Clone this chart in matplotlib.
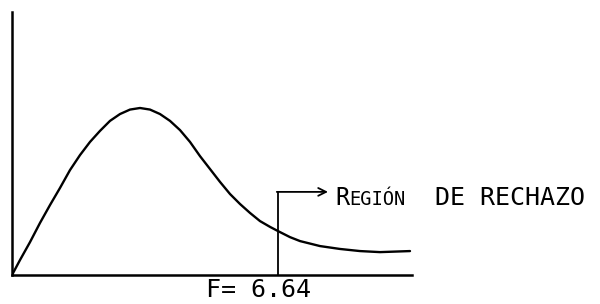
import matplotlib
matplotlib.use('Agg')
import matplotlib.pyplot as plt

# curve (F value, relative density)
f_vals = [0.0, 0.2, 0.45, 0.7, 0.95, 1.2, 1.45, 1.7, 1.95, 2.2, 2.45, 2.7, 2.95,
          3.2, 3.45, 3.7, 3.95, 4.2, 4.45, 4.7, 4.95, 5.2, 5.45, 5.7, 5.95,
          6.2, 6.45, 6.65, 6.95, 7.2, 7.7, 8.2, 8.7, 9.2, 9.95]
density = [0.0, 0.057, 0.125, 0.198, 0.266, 0.331, 0.399, 0.456, 0.506, 0.548, 0.586,
           0.612, 0.629, 0.635, 0.629, 0.612, 0.586, 0.551, 0.506, 0.452, 0.403,
           0.354, 0.308, 0.270, 0.236, 0.205, 0.183, 0.167, 0.144, 0.129, 0.110,
           0.099, 0.091, 0.087, 0.091]
f_crit = 6.64
crit_label = 'F= 6.64'

mono = 'DejaVu Sans Mono'

fig = plt.figure(figsize=(6, 3.04), dpi=100)
ax = fig.add_axes([12 / 600, 29 / 304, 400 / 600, 263 / 304])
ax.plot(f_vals, density, color='black', lw=1.7, solid_joinstyle='round',
        solid_capstyle='round')

ax.set_xlim(0, 10)
ax.set_ylim(0, 1)
for s in ['top', 'right']:
    ax.spines[s].set_visible(False)
for s in ['left', 'bottom']:
    ax.spines[s].set_linewidth(1.8)
ax.set_xticks([])
ax.set_yticks([])

# bracket marking the rejection region
ax.plot([f_crit, f_crit], [0, 0.316], color='black', lw=1.3)
ax.annotate('', xy=(7.9, 0.316), xytext=(f_crit - 0.02, 0.316),
            arrowprops=dict(arrowstyle='->', color='black', lw=1.3,
                            shrinkA=0, shrinkB=0, mutation_scale=14))

ax.text(8.08, 0.266, 'R', fontfamily=mono, fontsize=17, va='baseline', clip_on=False)
ax.text(8.42, 0.266, 'EGIÓN', fontfamily=mono, fontsize=13.5, va='baseline', clip_on=False)
ax.text(10.58, 0.266, 'DE RECHAZO', fontfamily=mono, fontsize=18, va='baseline', clip_on=False)

ax.text(4.85, -0.01, crit_label, fontfamily=mono, fontsize=18, va='top', clip_on=False)

fig.savefig('out.png', dpi=100)
